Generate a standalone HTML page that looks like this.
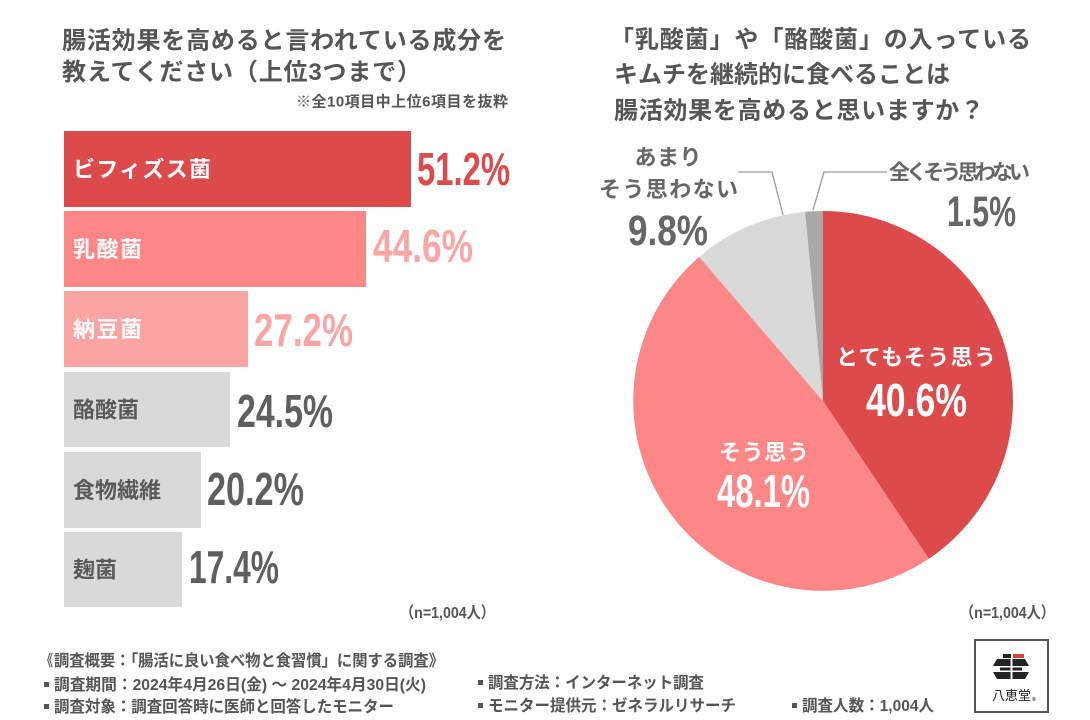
<!DOCTYPE html>
<html><head><meta charset="utf-8"><style>
html,body{margin:0;padding:0;background:#fff;}
svg{display:block;}
</style></head><body>
<svg width="1090" height="720" viewBox="0 0 1090 720" xmlns="http://www.w3.org/2000/svg" font-family="'Liberation Sans','Noto Sans CJK JP',sans-serif" font-weight="bold">
<rect width="1090" height="720" fill="#fff"/>

<!-- Left title -->
<text x="62" y="48.6" font-size="24" fill="#555" textLength="444">腸活効果を高めると言われている成分を</text>
<text x="62" y="80" font-size="24" fill="#555" textLength="359">教えてください（上位3つまで）</text>
<text x="508" y="106.4" font-size="15" fill="#555" text-anchor="end" textLength="212">※全10項目中上位6項目を抜粋</text>

<!-- Bars -->
<rect x="64" y="131" width="347" height="76" fill="#dc4a4c"/>
<rect x="64" y="211" width="302" height="76" fill="#fd8686"/>
<rect x="64" y="291" width="184" height="76" fill="#fba4a4"/>
<rect x="64" y="372" width="166" height="75" fill="#d9d9d9"/>
<rect x="64" y="452" width="137" height="76" fill="#d9d9d9"/>
<rect x="64" y="532" width="118" height="75" fill="#d9d9d9"/>

<text x="73" y="177" font-size="22" fill="#fff" textLength="138">ビフィズス菌</text>
<text x="73" y="257" font-size="22" fill="#fff" textLength="69">乳酸菌</text>
<text x="73" y="337" font-size="22" fill="#fff" textLength="69">納豆菌</text>
<text x="73" y="417.5" font-size="22" fill="#595959" textLength="66">酪酸菌</text>
<text x="73" y="498" font-size="22" fill="#595959" textLength="88">食物繊維</text>
<text x="73" y="577.5" font-size="22" fill="#595959" textLength="44">麹菌</text>

<g font-size="46">
<text x="417" y="185" fill="#dc4a4c" textLength="93" lengthAdjust="spacingAndGlyphs">51.2%</text>
<text x="373" y="262" fill="#fca5a5" textLength="100" lengthAdjust="spacingAndGlyphs">44.6%</text>
<text x="254" y="346" fill="#fba4a4" textLength="99" lengthAdjust="spacingAndGlyphs">27.2%</text>
<text x="237" y="427" fill="#5f5f5f" textLength="96" lengthAdjust="spacingAndGlyphs">24.5%</text>
<text x="207" y="505" fill="#5f5f5f" textLength="97" lengthAdjust="spacingAndGlyphs">20.2%</text>
<text x="189" y="583" fill="#5f5f5f" textLength="90" lengthAdjust="spacingAndGlyphs">17.4%</text>
</g>

<!-- Right title -->
<text x="610" y="47.6" font-size="24" fill="#555" textLength="421">「乳酸菌」や「酪酸菌」の入っている</text>
<text x="614" y="82.6" font-size="24" fill="#555" textLength="336">キムチを継続的に食べることは</text>
<text x="614" y="118.6" font-size="24" fill="#555" textLength="370">腸活効果を高めると思いますか？</text>

<!-- Pie -->
<path d="M823,401 L823,211 A190,190 0 0,1 928.8,558.8 Z" fill="#dc4a4c"/>
<path d="M823,401 L928.8,558.8 A190,190 0 0,1 699.2,256.9 Z" fill="#fd8686"/>
<path d="M823,401 L699.2,256.9 A190,190 0 0,1 805.1,211.8 Z" fill="#d9d9d9"/>
<path d="M823,401 L805.1,211.8 A190,190 0 0,1 823,211 Z" fill="#a9a9a9"/>

<!-- Leader lines -->
<polyline points="738,172 772,172 783,215" fill="none" stroke="#9a9a9a" stroke-width="1.3"/>
<polyline points="887,172 824,172 813,210" fill="none" stroke="#9a9a9a" stroke-width="1.3"/>

<!-- Pie labels inside -->
<text x="916" y="365" font-size="22" fill="#fff" text-anchor="middle" textLength="160">とてもそう思う</text>
<text x="866" y="416" font-size="46" fill="#fff" textLength="101" lengthAdjust="spacingAndGlyphs">40.6%</text>
<text x="764" y="460" font-size="22" fill="#fff" text-anchor="middle" textLength="90">そう思う</text>
<text x="717" y="507" font-size="46" fill="#fff" textLength="93" lengthAdjust="spacingAndGlyphs">48.1%</text>

<!-- Pie labels outside -->
<text x="668" y="165" font-size="22" fill="#666" text-anchor="middle" textLength="67">あまり</text>
<text x="668.5" y="197" font-size="22" fill="#666" text-anchor="middle" textLength="139">そう思わない</text>
<text x="628" y="245" font-size="43" fill="#666" textLength="80" lengthAdjust="spacingAndGlyphs">9.8%</text>
<text x="889" y="179.5" font-size="21" fill="#666" textLength="141">全くそう思わない</text>
<text x="947" y="226" font-size="43" fill="#666" textLength="69" lengthAdjust="spacingAndGlyphs">1.5%</text>

<!-- n labels -->
<text x="400" y="617.8" font-size="16" fill="#555" textLength="95" lengthAdjust="spacingAndGlyphs">（n=1,004人）</text>
<text x="1055" y="617.8" font-size="16" fill="#555" text-anchor="end" textLength="95" lengthAdjust="spacingAndGlyphs">（n=1,004人）</text>

<!-- Footer -->
<g font-size="16" fill="#555">
<text x="41" y="665.8" textLength="12" lengthAdjust="spacingAndGlyphs">《</text>
<text x="54" y="665.8" textLength="390" lengthAdjust="spacingAndGlyphs">調査概要：「腸活に良い食べ物と食習慣」に関する調査》</text>
<rect x="44" y="682" width="5" height="5"/>
<text x="54" y="689.8" textLength="372" lengthAdjust="spacingAndGlyphs">調査期間：2024年4月26日(金) 〜 2024年4月30日(火)</text>
<rect x="44" y="704" width="5" height="5"/>
<text x="54" y="711.8" textLength="340" lengthAdjust="spacingAndGlyphs">調査対象：調査回答時に医師と回答したモニター</text>
<rect x="478" y="680" width="5" height="5"/>
<text x="488" y="687.8" textLength="216" lengthAdjust="spacingAndGlyphs">調査方法：インターネット調査</text>
<rect x="478" y="703" width="5" height="5"/>
<text x="488" y="710.8" textLength="248" lengthAdjust="spacingAndGlyphs">モニター提供元：ゼネラルリサーチ</text>
<rect x="792" y="703" width="5" height="5"/>
<text x="802" y="710.8" textLength="132" lengthAdjust="spacingAndGlyphs">調査人数：1,004人</text>
</g>

<!-- Logo -->
<rect x="975" y="640" width="73" height="72" fill="#fff" stroke="#555" stroke-width="2"/>
<rect x="1003" y="654" width="8" height="4" fill="#222"/>
<rect x="1013" y="654" width="11" height="4" fill="#e0402f"/>
<polygon points="997,659 1025,659 1029,666 993,666" fill="#222"/>
<rect x="1000" y="667.5" width="22" height="3" fill="#222"/>
<polygon points="993,672 1029,672 1025,679 997,679" fill="#222"/>
<rect x="1010.5" y="658" width="2" height="22" fill="#fff"/>
<text x="992" y="700" font-size="13" font-weight="normal" fill="#222">八恵堂</text>
<text x="1032" y="701" font-size="5" fill="#222">®</text>
</svg>
</body></html>
